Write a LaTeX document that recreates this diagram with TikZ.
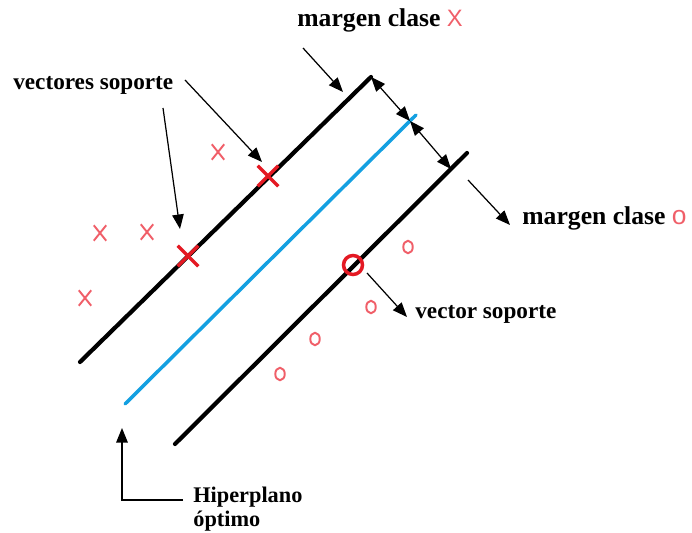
\documentclass[tikz,border=0pt]{standalone}
\usepackage{fontspec}
\setmainfont{Liberation Serif}
\newfontfamily\markfont{Liberation Sans}
\usetikzlibrary{arrows.meta, shapes.misc, shapes.geometric}
\definecolor{hyper}{RGB}{20,160,225}
\definecolor{clsred}{RGB}{240,95,105}
\definecolor{svred}{RGB}{228,25,35}

\begin{document}
\begin{tikzpicture}[x=0.02cm, y=-0.02cm,
   lbl/.style={inner sep=0pt, anchor=west, font=\fontsize{13.2}{15}\selectfont\bfseries},
   mlbl/.style={inner sep=0pt, anchor=west, font=\fontsize{14.6}{17}\selectfont\bfseries},
   ptr/.style={-{Triangle[length=2.9mm, width=2.3mm]}, line width=0.7pt},
   gap/.style={{Triangle[length=2.9mm, width=2.3mm]}-{Triangle[length=2.9mm, width=2.3mm]}, line width=0.7pt},
   margin/.style={line width=2.4pt, line cap=round},
   xpt/.style={cross out, draw=clsred, line width=1.1pt, minimum width=0.21cm, minimum height=0.27cm, inner sep=0pt},
   opt/.style={ellipse, draw=clsred, line width=1.1pt, minimum width=0.19cm, minimum height=0.25cm, inner sep=0pt},
   svx/.style={cross out, draw=svred, line width=2pt, minimum size=0.34cm, inner sep=0pt},
   svo/.style={circle, draw=svred, line width=2pt, minimum size=0.38cm, inner sep=0pt}]

  \useasboundingbox (0,0) rectangle (692,533);

  % margins and hyperplane
  \coordinate (up1) at (80,362);   \coordinate (up2) at (371,77);
  \coordinate (hp1) at (125,404);  \coordinate (hp2) at (416,115);
  \coordinate (lo1) at (175,444);  \coordinate (lo2) at (467,153);
  \draw[margin] (up1) -- (up2);
  \draw[margin, hyper, line width=2pt] (hp1) -- (hp2);
  \draw[margin] (lo1) -- (lo2);

  % margin widths
  \coordinate (hpm) at (410,121);
  \coordinate (lom) at (451,169);
  \draw[gap] (up2) -- (hpm);
  \draw[gap] (hpm) -- (lom);

  % class X points
  \node[xpt] (x1) at (218,152) {};
  \node[xpt] (x2) at (100,233) {};
  \node[xpt] (x3) at (147,232) {};
  \node[xpt] (x4) at (85,298) {};
  \node[svx] (sv1) at (268,176) {};
  \node[svx] (sv2) at (188,256) {};

  % class o points
  \node[opt] (o1) at (408,247) {};
  \node[opt] (o2) at (371,307) {};
  \node[opt] (o3) at (315,339) {};
  \node[opt] (o4) at (280,374) {};
  \node[svo] (sv3) at (353,265) {};

  % labels
  \node[mlbl] (mx) at (297,20) {margen clase
        {\markfont\mdseries\fontsize{13.5}{14}\selectfont\color{clsred}X}};
  \coordinate (mxa) at (303,48);  \coordinate (mxb) at (343,92);
  \draw[ptr] (mxa) -- (mxb);

  \node[mlbl] (mo) at (522,218) {margen clase
        {\markfont\mdseries\fontsize{15}{15}\selectfont\color{clsred}o}};
  \coordinate (moa) at (468,180);  \coordinate (mob) at (510,225);
  \draw[ptr] (moa) -- (mob);

  \node[lbl] (vs) at (13,85) {vectores soporte};
  \coordinate (vsa) at (185,80);   \coordinate (vsb) at (262,162);
  \coordinate (vsc) at (163,108);  \coordinate (vsd) at (180,229);
  \draw[ptr] (vsa) -- (vsb);
  \draw[ptr] (vsc) -- (vsd);

  \node[lbl] (vo) at (415,314) {vector soporte};
  \coordinate (voa) at (367,273);  \coordinate (vob) at (407,317);
  \draw[ptr] (voa) -- (vob);

  \node[lbl, align=left, font=\fontsize{12.7}{13.7}\selectfont\bfseries]
       (ho) at (193,509) {Hiperplano\\óptimo};
  \coordinate (hoa) at (183,500);  \coordinate (hob) at (122,428);
  \draw[ptr] (hoa) -| (hob);
\end{tikzpicture}
\end{document}
